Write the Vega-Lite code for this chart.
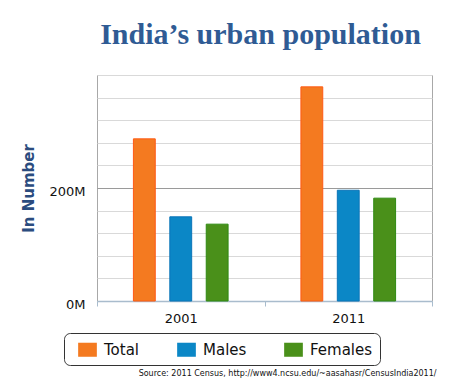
{
  "$schema": "https://vega.github.io/schema/vega-lite/v6.json",
  "autosize": "none",
  "padding": {"left": 97, "top": 75, "right": 17, "bottom": 86},
  "width": 335,
  "height": 226,
  "background": "white",
  "title": {
    "text": "India’s urban population",
    "font": "Liberation Serif",
    "fontSize": 30,
    "fontWeight": "bold",
    "color": "#2f5b94",
    "anchor": "middle",
    "baseline": "alphabetic",
    "offset": 1,
    "dx": -4
  },
  "data": {
    "values": [
      {"year": "2001", "group": "Total", "population": 287000000},
      {"year": "2001", "group": "Males", "population": 149000000},
      {"year": "2001", "group": "Females", "population": 136000000},
      {"year": "2011", "group": "Total", "population": 379000000},
      {"year": "2011", "group": "Males", "population": 196000000},
      {"year": "2011", "group": "Females", "population": 182000000}
    ]
  },
  "mark": {"type": "bar", "strokeWidth": 1},
  "encoding": {
    "x": {
      "field": "year",
      "type": "nominal",
      "scale": {"paddingInner": 0, "paddingOuter": 0},
      "axis": {
        "labelAngle": 0,
        "labelFont": "DejaVu Sans",
        "labelFontSize": 13,
        "labelColor": "#111",
        "labelPadding": 6,
        "domainColor": "#a9bccd",
        "domainWidth": 1.5,
        "tickColor": "#a9bccd",
        "tickSize": 5,
        "tickBand": "extent",
        "grid": false,
        "title": "Source: 2011 Census, http://www4.ncsu.edu/~aasahasr/CensusIndia2011/",
        "titleFont": "DejaVu Sans",
        "titleFontSize": 8,
        "titleFontWeight": "normal",
        "titleColor": "#111",
        "titleX": 339,
        "titleY": 74,
        "titleAlign": "right",
        "titleBaseline": "alphabetic"
      }
    },
    "xOffset": {
      "field": "group",
      "type": "nominal",
      "sort": ["Total", "Males", "Females"],
      "scale": {"paddingInner": 0.4, "paddingOuter": 1.2}
    },
    "y": {
      "field": "population",
      "type": "quantitative",
      "scale": {"domain": [0, 400000000], "nice": false},
      "axis": {
        "values": [0, 40000000, 80000000, 120000000, 160000000, 200000000, 240000000, 280000000, 320000000, 360000000, 400000000],
        "labelExpr": "datum.value === 0 || datum.value === 200000000 ? (datum.value / 1000000) + 'M' : ''",
        "labelFont": "DejaVu Sans",
        "labelFontSize": 13,
        "labelColor": "#111",
        "labelPadding": 12,
        "labelOffset": 3,
        "labelFlush": false,
        "domain": false,
        "ticks": false,
        "gridColor": {"condition": {"test": "datum.value === 200000000", "value": "#9a9a9a"}, "value": "#d9d9d9"},
        "title": "In Number",
        "titleFont": "DejaVu Sans",
        "titleFontSize": 15,
        "titleFontWeight": "bold",
        "titleColor": "#2b4c7e",
        "titleAngle": -90,
        "titleX": -69,
        "titleY": 113,
        "titleAlign": "center",
        "titleBaseline": "middle"
      }
    },
    "color": {
      "field": "group",
      "type": "nominal",
      "sort": ["Total", "Males", "Females"],
      "scale": {"domain": ["Total", "Males", "Females"], "range": ["#f47a20", "#0b87c6", "#4a901a"]},
      "legend": {
        "title": null,
        "orient": "none",
        "legendX": -33,
        "legendY": 258,
        "direction": "horizontal",
        "strokeColor": "#333",
        "cornerRadius": 6,
        "padding": 7,
        "columnPadding": 30,
        "symbolType": "M-1,-0.75H1V0.75H-1Z",
        "symbolSize": 350,
        "symbolStrokeWidth": 0,
        "symbolOffset": 7,
        "labelOffset": 7,
        "labelFont": "DejaVu Sans",
        "labelFontSize": 15,
        "labelColor": "#111"
      }
    },
    "stroke": {
      "field": "group",
      "type": "nominal",
      "scale": {"domain": ["Total", "Males", "Females"], "range": ["#ff5a14", "#0a74b8", "#2f8a12"]},
      "legend": null
    }
  },
  "config": {
    "view": {"stroke": "#a8a8a8", "strokeWidth": 1}
  }
}
